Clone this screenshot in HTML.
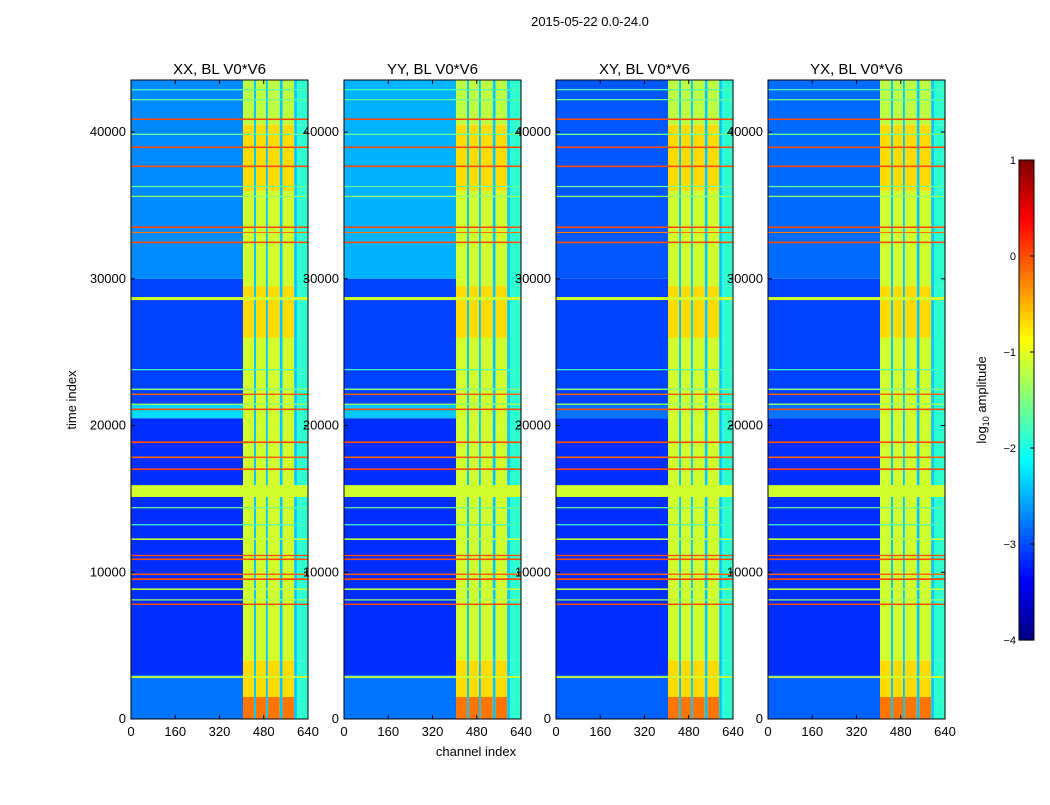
<!DOCTYPE html>
<html><head><meta charset="utf-8"><style>
body{margin:0;background:#fff;font-family:"Liberation Sans","DejaVu Sans",sans-serif}
svg text{font-family:"Liberation Sans","DejaVu Sans",sans-serif}
</style></head><body>
<svg id="fig" width="1050" height="800" viewBox="0 0 1050 800" xmlns="http://www.w3.org/2000/svg">
<rect width="1050" height="800" fill="#fff"/>
<text x="590" y="26" font-size="13" text-anchor="middle">2015-05-22 0.0-24.0</text>
<text x="476" y="756" font-size="13" text-anchor="middle">channel index</text>
<text transform="translate(76,400) rotate(-90)" font-size="13" text-anchor="middle">time index</text>
<text transform="translate(986,400) rotate(-90)" font-size="13" text-anchor="middle">log<tspan font-size="9" dy="3">10</tspan><tspan dy="-3"> amplitude</tspan></text>
<g id="panels"></g>
<g id="cbar"></g>
</svg>
<script>
// ---- data ----
const panelNames = ["XX, BL V0*V6","YY, BL V0*V6","XY, BL V0*V6","YX, BL V0*V6"];
const panelX = [131,344,556,768];
const tMax = 43550;
const chMax = 640;
const yTicks = [0,10000,20000,30000,40000];
const xTicks = [0,160,320,480,640];
const cbTicks = [1,0,-1,-2,-3,-4];
const cbLabels = ["1","0","\u22121","\u22122","\u22123","\u22124"];
// background time regions
const bgStart = [0,3000,20500,21400,30000];
const bgEnd   = [3000,20500,21400,30000,43550];
const bgLowXX = [-2.8,-3.15,-2.3,-3.05,-2.7];
const bgLowYY = [-2.8,-3.15,-2.4,-3.05,-2.5];
const bgLowXY = [-2.9,-3.15,-2.8,-3.05,-2.95];
const bgLowYX = [-2.9,-3.15,-2.8,-3.05,-2.85];
// high channel region blocks
const hiStart = [0,1500,4000,20000,26000,29500,36000,40500];
const hiEnd   = [1500,4000,20000,26000,29500,36000,40500,43550];
const hiVal   = [-0.2,-0.7,-1.1,-1.1,-0.7,-1.1,-0.7,-1.2];
// channel bands of high region: kind 1=bright,0=gap,2=edge
const chStart = [405,445,452,488,495,538,548,590,600];
const chEnd   = [445,452,488,495,538,548,590,600,640];
const chKind  = [1,0,1,0,1,0,1,0,2];
// horizontal stripes: time, width, value
const stT = [2800,7770,8100,8790,9470,9810,10830,11100,12200,13220,14380,15130,16970,17780,18800,21050,21400,22080,22420,23800,28550,32430,33120,33460,35570,36250,37610,38910,39800,40820,42180,42860];
const stW = [120,100,60,110,120,100,110,90,110,60,60,810,110,110,120,110,100,100,100,50,210,110,80,110,90,80,110,110,90,110,70,70];
const stV = [-1.1,0.0,-1.3,-1.2,0.0,-0.1,0.0,0.0,-1.2,-1.8,-1.6,-1.1,0.0,-0.1,0.0,0.0,-1.4,-0.1,-1.5,-1.8,-1.1,0.0,-0.2,0.0,-1.4,-1.6,0.0,0.0,-1.6,0.0,-1.6,-1.7];

// ---- helpers ----
const NS="http://www.w3.org/2000/svg";
function jet(v){ let x=(v+4)/5; x=Math.max(0,Math.min(1,x));
  const r=Math.min(1,Math.max(0,1.5-Math.abs(4*x-3)));
  const g=Math.min(1,Math.max(0,1.5-Math.abs(4*x-2)));
  const b=Math.min(1,Math.max(0,1.5-Math.abs(4*x-1)));
  return `rgb(${Math.round(r*255)},${Math.round(g*255)},${Math.round(b*255)})`;}
const pTop=80,pBot=719,pw=177;
function yS(t){return pBot-(t/tMax)*(pBot-pTop);}
function mk(tag,attrs,parent){const e=document.createElementNS(NS,tag);for(const k in attrs)e.setAttribute(k,attrs[k]);parent.appendChild(e);return e;}
const lowSets=[bgLowXX,bgLowYY,bgLowXY,bgLowYX];
const G=document.getElementById('panels');
panelX.forEach((px,p)=>{
  const xS=c=>px+c/chMax*pw;
  const g=mk('g',{},G);
  
  
  bgStart.forEach((s,i)=>{
    const r=mk('rect',{x:xS(0),y:yS(bgEnd[i]),width:xS(405)-xS(0),height:yS(s)-yS(bgEnd[i]),fill:jet(lowSets[p][i])},g);
    
    
  });
  hiStart.forEach((s,i)=>{
    chStart.forEach((c,j)=>{
      const v = chKind[j]===1?hiVal[i]:(chKind[j]===0?-2.4:-1.9);
      const r=mk('rect',{x:xS(c),y:yS(hiEnd[i]),width:xS(chEnd[j])-xS(c),height:yS(s)-yS(hiEnd[i]),fill:jet(v)},g);
      
      
    });
  });
  stT.forEach((t,i)=>{
    const y1=yS(t+stW[i]),y0=yS(t);
    const r=mk('rect',{x:xS(0),y:y1,width:pw,height:Math.max(1.2,y0-y1),fill:jet(stV[i])},g);
    
    
  });
  mk('rect',{x:px,y:pTop,width:pw,height:pBot-pTop,fill:'none',stroke:'#000','stroke-width':1},g);
  const ti=mk('text',{x:px+pw/2,y:pTop-6,'font-size':15,'text-anchor':'middle'},g);
  ti.textContent=panelNames[p];
  
  
  yTicks.forEach(t=>{const y=yS(t);
    mk('line',{x1:px,x2:px+4,y1:y,y2:y,stroke:'#000'},g);
    mk('line',{x1:px+pw,x2:px+pw-4,y1:y,y2:y,stroke:'#000'},g);
    const l=mk('text',{x:px-5,y:y+4,'font-size':13,'text-anchor':'end'},g);l.textContent=t;
    
    });
  xTicks.forEach(c=>{const x=xS(c);
    mk('line',{x1:x,x2:x,y1:pBot,y2:pBot-4,stroke:'#000'},g);
    mk('line',{x1:x,x2:x,y1:pTop,y2:pTop+4,stroke:'#000'},g);
    const l=mk('text',{x:x,y:pBot+17,'font-size':13,'text-anchor':'middle'},g);l.textContent=c;
    
    });
});
const C=document.getElementById('cbar');
const cx=1019,cw=15,ct=160,cb=640;
for(let i=0;i<120;i++){const y=ct+i*(cb-ct)/120;const v=1-5*(i+0.5)/120;
  mk('rect',{x:cx,y:y,width:cw,height:(cb-ct)/120+0.6,fill:jet(v)},C);}
const cbox=mk('rect',{x:cx,y:ct,width:cw,height:cb-ct,fill:'none',stroke:'#000'},C);


cbTicks.forEach((v,i)=>{const y=ct+(1-v)/5*(cb-ct);
  mk('line',{x1:cx+cw,x2:cx+cw-4,y1:y,y2:y,stroke:'#000'},C);
  const l=mk('text',{x:cx-3,y:y+4,'font-size':11,'text-anchor':'end'},C);l.textContent=cbLabels[i];
  
  });
</script>
</body></html>
